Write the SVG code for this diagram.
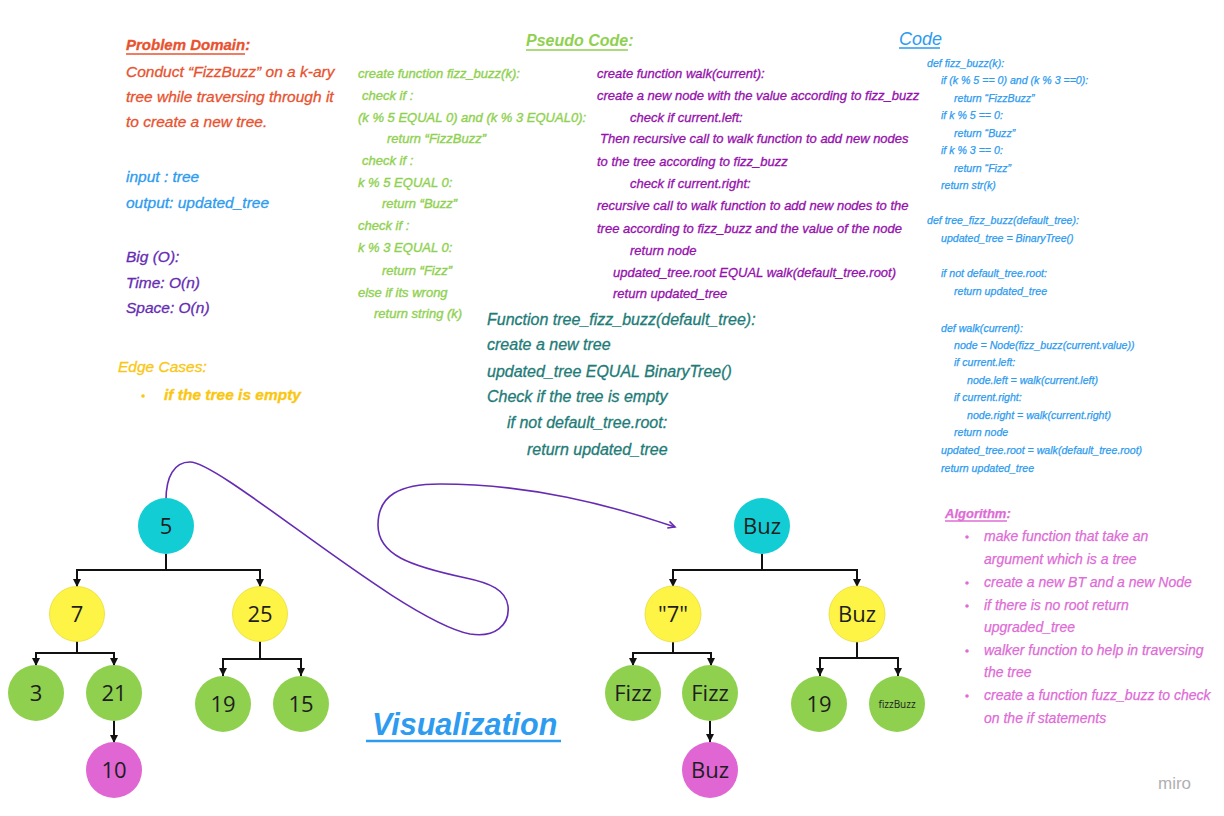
<svg xmlns="http://www.w3.org/2000/svg" width="1224" height="816" viewBox="0 0 1224 816">
<style>
.hw{font-family:"Liberation Sans",Arial,sans-serif;font-style:italic}
.pd{fill:#e8522f;stroke:#e8522f;stroke-width:0.3px;font-size:15.5px}
.bl{fill:#2d9bf0;stroke:#2d9bf0;stroke-width:0.3px;font-size:15.5px}
.bo{fill:#652cb3;stroke:#652cb3;stroke-width:0.3px;font-size:15.5px}
.ec{fill:#fac710;stroke:#fac710;stroke-width:0.3px;font-size:15.5px}
.gp{fill:#8fd14f;stroke:#8fd14f;stroke-width:0.35px;font-size:13px}
.pp{fill:#9510ac;stroke:#9510ac;stroke-width:0.3px;font-size:13px}
.tl{fill:#1e7b77;stroke:#1e7b77;stroke-width:0.3px;font-size:16px}
.cd{fill:#2d9bf0;stroke:#2d9bf0;stroke-width:0.25px;font-size:10.6px}
.al{fill:#de6bd6;stroke:#de6bd6;stroke-width:0.25px;font-size:14px}
.nt{font-family:"Open Sans","Noto Sans",sans-serif;font-size:22px;fill:#1e1e1e;text-anchor:middle}
.edge{fill:none;stroke:#111;stroke-width:2;marker-end:url(#ah)}
.cy{fill:#12cdd4}
.ye{fill:#fef445;stroke:#e8dc3a;stroke-width:0.8}
.gr{fill:#8fd14f}
.pk{fill:#e066d4}
</style>
<defs>
<marker id="ah" markerUnits="userSpaceOnUse" markerWidth="10" markerHeight="10" refX="8" refY="4" orient="auto">
<path d="M0,0 L8,4 L0,8 Z" fill="#111"/>
</marker>
<marker id="ph" markerUnits="userSpaceOnUse" markerWidth="10" markerHeight="10" refX="7" refY="4" orient="auto">
<path d="M0,0.5 L7,4 L0,7.5" fill="none" stroke="#652cb3" stroke-width="1.6"/>
</marker>
</defs>
<rect width="1224" height="816" fill="#ffffff"/>

<g id="problem-domain" class="hw">
<text x="126" y="50" class="pd" style="font-size:15px;font-weight:bold">Problem Domain:</text>
<line x1="126" y1="54" x2="245" y2="54" stroke="#e8522f" stroke-width="1.5"/>
<text x="126" y="77" class="pd">Conduct “FizzBuzz” on a k-ary</text>
<text x="126" y="102" class="pd">tree while traversing through it</text>
<text x="126" y="127" class="pd">to create a new tree.</text>
<text x="126" y="182" class="bl">input : tree</text>
<text x="126" y="208" class="bl">output: updated_tree</text>
<text x="126" y="262" class="bo">Big (O):</text>
<text x="126" y="288" class="bo">Time: O(n)</text>
<text x="126" y="313" class="bo">Space: O(n)</text>
<text x="118" y="372" class="ec">Edge Cases:</text>
<circle cx="143" cy="396" r="1.8" fill="#fac710"/>
<text x="164" y="400" class="ec" style="font-weight:bold">if the tree is empty</text>
</g>

<g id="pseudo-code" class="hw">
<text x="526" y="46" fill="#8fd14f" style="font-size:16px;font-weight:bold">Pseudo Code:</text>
<line x1="526" y1="50" x2="628" y2="50" stroke="#8fd14f" stroke-width="1.5"/>
<text x="358" y="78" class="gp">create function fizz_buzz(k):</text>
<text x="362" y="100" class="gp">check if :</text>
<text x="358" y="122" class="gp">(k % 5 EQUAL 0) and (k % 3 EQUAL0):</text>
<text x="387" y="143" class="gp">return “FizzBuzz”</text>
<text x="362" y="165" class="gp">check if :</text>
<text x="358" y="187" class="gp">k % 5 EQUAL 0:</text>
<text x="382" y="208" class="gp">return “Buzz”</text>
<text x="358" y="230" class="gp">check if :</text>
<text x="358" y="252" class="gp">k % 3 EQUAL 0:</text>
<text x="382" y="275" class="gp">return “Fizz”</text>
<text x="358" y="297" class="gp">else if its wrong</text>
<text x="374" y="318" class="gp">return string (k)</text>

<text x="597" y="78" class="pp">create function walk(current):</text>
<text x="597" y="100" class="pp">create a new node with the value according to fizz_buzz</text>
<text x="630" y="122" class="pp">check if current.left:</text>
<text x="600" y="143" class="pp">Then recursive call to walk function to add new nodes</text>
<text x="597" y="166" class="pp">to the tree according to fizz_buzz</text>
<text x="630" y="188" class="pp">check if current.right:</text>
<text x="597" y="210" class="pp">recursive call to walk function to add new nodes to the</text>
<text x="597" y="233" class="pp">tree according to fizz_buzz and the value of the node</text>
<text x="630" y="255" class="pp">return node</text>
<text x="613" y="277" class="pp">updated_tree.root EQUAL walk(default_tree.root)</text>
<text x="613" y="298" class="pp">return updated_tree</text>

<text x="487" y="325" class="tl">Function tree_fizz_buzz(default_tree):</text>
<text x="487" y="350" class="tl">create a new tree</text>
<text x="487" y="377" class="tl">updated_tree EQUAL BinaryTree()</text>
<text x="487" y="402" class="tl">Check if the tree is empty</text>
<text x="507" y="428" class="tl">if not default_tree.root:</text>
<text x="527" y="455" class="tl">return updated_tree</text>
</g>

<g id="code" class="hw">
<text x="899" y="45" fill="#2d9bf0" style="font-size:18px">Code</text>
<line x1="899" y1="48" x2="940" y2="48" stroke="#2d9bf0" stroke-width="1.5"/>
<text x="927" y="67" class="cd">def fizz_buzz(k):</text>
<text x="941" y="84" class="cd">if (k % 5 == 0) and (k % 3 ==0):</text>
<text x="954" y="102" class="cd">return “FizzBuzz”</text>
<text x="941" y="119" class="cd">if k % 5 == 0:</text>
<text x="954" y="137" class="cd">return “Buzz”</text>
<text x="941" y="154" class="cd">if k % 3 == 0:</text>
<text x="954" y="172" class="cd">return “Fizz”</text>
<text x="941" y="189" class="cd">return str(k)</text>
<text x="927" y="224" class="cd">def tree_fizz_buzz(default_tree):</text>
<text x="941" y="242" class="cd">updated_tree = BinaryTree()</text>
<text x="941" y="277" class="cd">if not default_tree.root:</text>
<text x="954" y="295" class="cd">return updated_tree</text>
<text x="941" y="332" class="cd">def walk(current):</text>
<text x="954" y="349" class="cd">node = Node(fizz_buzz(current.value))</text>
<text x="954" y="366" class="cd">if current.left:</text>
<text x="967" y="384" class="cd">node.left = walk(current.left)</text>
<text x="954" y="401" class="cd">if current.right:</text>
<text x="967" y="419" class="cd">node.right = walk(current.right)</text>
<text x="954" y="436" class="cd">return node</text>
<text x="941" y="454" class="cd">updated_tree.root = walk(default_tree.root)</text>
<text x="941" y="472" class="cd">return updated_tree</text>
</g>

<g id="algorithm" class="hw">
<text x="945" y="518" class="al" style="font-size:13px;font-weight:bold">Algorithm:</text>
<line x1="945" y1="521" x2="1007" y2="521" stroke="#de6bd6" stroke-width="1.5"/>
<g fill="#de6bd6">
<circle cx="967" cy="537" r="1.8"/>
<circle cx="967" cy="583" r="1.8"/>
<circle cx="967" cy="606" r="1.8"/>
<circle cx="967" cy="651" r="1.8"/>
<circle cx="967" cy="696" r="1.8"/>
</g>
<text x="984" y="541" class="al">make function that take an</text>
<text x="984" y="564" class="al">argument which is a tree</text>
<text x="984" y="587" class="al">create a new BT and a new Node</text>
<text x="984" y="610" class="al">if there is no root return</text>
<text x="984" y="632" class="al">upgraded_tree</text>
<text x="984" y="655" class="al">walker function to help in traversing</text>
<text x="984" y="677" class="al">the tree</text>
<text x="984" y="700" class="al">create a function fuzz_buzz to check</text>
<text x="984" y="723" class="al">on the if statements</text>
</g>

<g id="visualization-title" class="hw">
<text x="372" y="735" fill="#2d9bf0" style="font-size:30.5px;font-weight:bold">Visualization</text>
<line x1="366" y1="741" x2="561" y2="741" stroke="#2d9bf0" stroke-width="2.5"/>
</g>

<g id="connectors">
<path class="edge" d="M166 554 V570 H77 V587"/>
<path class="edge" d="M166 570 H260 V587"/>
<path class="edge" d="M77 641 V653 H36 V666"/>
<path class="edge" d="M77 653 H114 V666"/>
<path class="edge" d="M114 720 V743"/>
<path class="edge" d="M260 641 V659 H223 V676"/>
<path class="edge" d="M260 659 H301 V676"/>
<path class="edge" d="M762 554 V570 H673 V587"/>
<path class="edge" d="M762 570 H857 V587"/>
<path class="edge" d="M673 642 V653 H633 V666"/>
<path class="edge" d="M673 653 H711 V666"/>
<path class="edge" d="M710 721 V742"/>
<path class="edge" d="M857 642 V658 H820 V676"/>
<path class="edge" d="M857 658 H898 V676"/>
<path d="M166 500 C166 477 174 462 190 462 C222 462 400 620 470 634 C495 638 510 625 508 606 C506 590 490 583 466 578 C410 566 378 555 378 525 C378 495 400 484 440 484 C530 484 610 505 675 527" fill="none" stroke="#652cb3" stroke-width="1.6" marker-end="url(#ph)"/>
</g>

<g id="n5"><circle class="cy" cx="166" cy="526" r="28"/><text class="nt" x="166" y="534">5</text></g>
<g id="n7"><circle class="ye" cx="77" cy="614" r="27.5"/><text class="nt" x="77" y="622">7</text></g>
<g id="n25"><circle class="ye" cx="260" cy="614" r="27.5"/><text class="nt" x="260" y="622">25</text></g>
<g id="n3"><circle class="gr" cx="36" cy="693" r="28"/><text class="nt" x="36" y="701">3</text></g>
<g id="n21"><circle class="gr" cx="114" cy="693" r="28"/><text class="nt" x="114" y="701">21</text></g>
<g id="n10"><circle class="pk" cx="114" cy="770" r="28"/><text class="nt" x="114" y="778">10</text></g>
<g id="n19"><circle class="gr" cx="223" cy="704" r="28"/><text class="nt" x="223" y="712">19</text></g>
<g id="n15"><circle class="gr" cx="301" cy="704" r="28"/><text class="nt" x="301" y="712">15</text></g>

<g id="rBuz"><circle class="cy" cx="762" cy="526" r="28"/><text class="nt" x="762" y="534">Buz</text></g>
<g id="r7"><circle class="ye" cx="673" cy="614" r="28"/><text class="nt" x="673" y="622">"7"</text></g>
<g id="rBuz2"><circle class="ye" cx="857" cy="614" r="28"/><text class="nt" x="857" y="622">Buz</text></g>
<g id="rFizz1"><circle class="gr" cx="633" cy="693" r="28"/><text class="nt" x="633" y="701">Fizz</text></g>
<g id="rFizz2"><circle class="gr" cx="710" cy="693" r="28"/><text class="nt" x="710" y="701">Fizz</text></g>
<g id="rBuz3"><circle class="pk" cx="710" cy="770" r="28"/><text class="nt" x="710" y="778">Buz</text></g>
<g id="r19"><circle class="gr" cx="819" cy="704" r="28"/><text class="nt" x="819" y="712">19</text></g>
<g id="rFizzBuzz"><circle class="gr" cx="897" cy="704" r="28"/><text class="nt" x="897" y="708" style="font-size:10px">fizzBuzz</text></g>

<text x="1158" y="789" font-family="Liberation Sans,Arial,sans-serif" font-size="17" fill="#b0b0b0">miro</text>
</svg>
